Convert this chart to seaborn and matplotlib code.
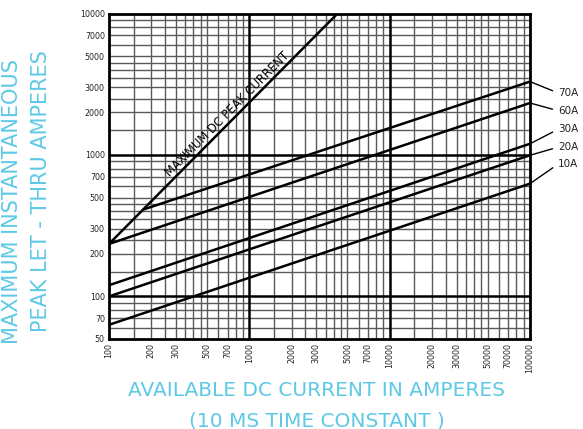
import numpy as np
import pandas as pd
import matplotlib
matplotlib.use("Agg")
import matplotlib.pyplot as plt
import seaborn as sns

# ---- data ----
series_names = ["MAX", "70A", "60A", "30A", "20A", "10A"]
max_x = [100, 4255]
max_y = [235, 10000]
a70_x = [175, 100000]
a70_y = [411, 3300]
a60_x = [100, 100000]
a60_y = [235, 2330]
a30_x = [100, 100000]
a30_y = [120, 1200]
a20_x = [100, 100000]
a20_y = [100, 995]
a10_x = [100, 100000]
a10_y = [63, 627]

x_ticks = [100, 200, 300, 500, 700, 1000, 2000, 3000, 5000, 7000,
           10000, 20000, 30000, 50000, 70000, 100000]
y_ticks = [50, 70, 100, 200, 300, 500, 700, 1000, 2000, 3000, 5000, 7000, 10000]
grid_subs = [1.5, 2, 2.5, 3, 3.5, 4, 4.5, 5, 6, 7, 8, 9]

label_names = ["70A", "60A", "30A", "20A", "10A"]
label_offsets = [(20, -8.1), (20, -5.5), (20, 10.3), (20, 5.8), (20, 13.9)]

xs = [max_x, a70_x, a60_x, a30_x, a20_x, a10_x]
ys = [max_y, a70_y, a60_y, a30_y, a20_y, a10_y]
rows = []
for name, xx, yy in zip(series_names, xs, ys):
    for a, b in zip(xx, yy):
        rows.append({"series": name, "current": a, "peak": b})
df = pd.DataFrame(rows)

sns.set_style("white")
plt.rcParams["font.family"] = ["DejaVu Sans"]

fig = plt.figure(figsize=(5.83, 4.29), dpi=100)
ax = fig.add_axes([109 / 583, 90 / 429, 421 / 583, 325.5 / 429])
ax.set_xscale("log")
ax.set_yscale("log")
ax.set_xlim(100, 100000)
ax.set_ylim(50, 10000)

# grid
x_dec = [100, 1000, 10000]
y_dec = [10, 100, 1000]
for d in x_dec:
    for s in grid_subs:
        ax.axvline(d * s, color="#5a5a5a", lw=1.0, zorder=1)
for d in y_dec:
    for s in grid_subs:
        v = d * s
        if 50 < v < 10000:
            ax.axhline(v, color="#5a5a5a", lw=1.0, zorder=1)
for v in [1000, 10000]:
    ax.axvline(v, color="black", lw=1.8, zorder=1.5)
for v in [100, 1000]:
    ax.axhline(v, color="black", lw=1.8, zorder=1.5)

sns.lineplot(data=df, x="current", y="peak", units="series", estimator=None,
             color="black", lw=1.8, ax=ax, zorder=3, legend=False)

for sp in ax.spines.values():
    sp.set_visible(True)
    sp.set_color("black")
    sp.set_linewidth(2)

ax.set_xticks(x_ticks)
ax.set_xticklabels([str(v) for v in x_ticks], rotation=90)
ax.set_yticks(y_ticks)
ax.set_yticklabels([str(v) for v in y_ticks])
ax.xaxis.set_minor_locator(matplotlib.ticker.NullLocator())
ax.yaxis.set_minor_locator(matplotlib.ticker.NullLocator())
ax.tick_params(axis="both", which="both", length=0, labelsize=5.7,
               labelcolor="#222222")
ax.tick_params(axis="x", pad=3)
ax.tick_params(axis="y", pad=3)
ax.set_xlabel("")
ax.set_ylabel("")

# label along the maximum DC peak current line
p1 = ax.transData.transform((max_x[0], max_y[0]))
p2 = ax.transData.transform((max_x[1], max_y[1]))
ang = np.degrees(np.arctan2(p2[1] - p1[1], p2[0] - p1[0]))
ax.annotate("MAXIMUM DC PEAK CURRENT", xy=(764, 764 * max_y[0] / max_x[0]),
            xytext=(-3.8, 3.8), textcoords="offset points",
            rotation=ang, rotation_mode="anchor", ha="center", va="center",
            fontsize=8.3, color="black", zorder=5)

# right-hand labels with leader lines
ends = [(a70_x[-1], a70_y[-1]), (a60_x[-1], a60_y[-1]), (a30_x[-1], a30_y[-1]),
        (a20_x[-1], a20_y[-1]), (a10_x[-1], a10_y[-1])]
for name, (ex, ey), off in zip(label_names, ends, label_offsets):
    ax.annotate(name, xy=(ex, ey), xytext=off, textcoords="offset points",
                ha="left", va="center", fontsize=7.5, color="#222222",
                annotation_clip=False,
                arrowprops=dict(arrowstyle="-", color="black", lw=1.0,
                                shrinkA=1.5, shrinkB=0, relpos=(0, 0.5)))

cyan = "#5EC9E6"
fig.text(316.5 / 583, 1 - 391 / 429, "AVAILABLE DC CURRENT IN AMPERES",
         ha="center", va="center", fontsize=14.5, color=cyan)
fig.text(316.5 / 583, 1 - 421 / 429, "(10 MS TIME CONSTANT )",
         ha="center", va="center", fontsize=14.5, color=cyan)
fig.text(12.5 / 583, 1 - 201.5 / 429, "MAXIMUM INSTANTANEOUS",
         ha="center", va="center", rotation=90, fontsize=15, color=cyan)
fig.text(41.5 / 583, 1 - 191 / 429, "PEAK LET - THRU AMPERES",
         ha="center", va="center", rotation=90, fontsize=15, color=cyan)

fig.savefig("out.png", dpi=100)
